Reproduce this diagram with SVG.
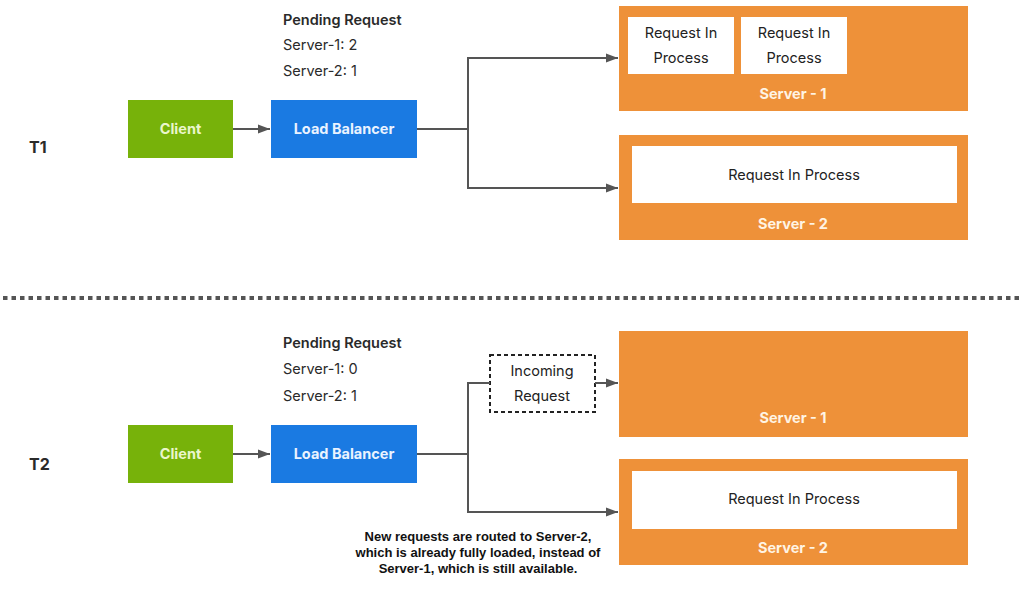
<svg xmlns="http://www.w3.org/2000/svg" width="1024" height="603" viewBox="0 0 1024 603">
<defs>
<marker id="arr" markerUnits="userSpaceOnUse" markerWidth="13" markerHeight="10" refX="12" refY="5" orient="auto">
<path d="M0,0.5 L12,5 L0,9.5 z" fill="#555"/>
</marker>
<style>
.t{font-family:Inter,"Liberation Sans",sans-serif;font-size:14.5px;fill:#2a2a2a}
.b{font-weight:600}
.lbl{font-family:Inter,"Liberation Sans",sans-serif;font-size:14.5px;font-weight:700;text-anchor:middle}
.conn{fill:none;stroke:#555;stroke-width:2}
.client{fill:#77b20a}
.lb{fill:#1a7ae2}
.srv{fill:#ee9139}
.box{fill:#fff}
.rt{font-family:Inter,"Liberation Sans",sans-serif;font-size:14.5px;fill:#222;text-anchor:middle}
.cap{font-family:"Liberation Sans",Arial,sans-serif;font-size:13px;font-weight:700;fill:#111;text-anchor:middle}
</style>
</defs>
<rect width="1024" height="603" fill="#fff"/>

<g id="t1-label"><text x="29" y="153" class="t" style="font-size:16px;font-weight:700">T1</text></g>
<g id="t1-pending">
<text x="283" y="25" class="t b">Pending Request</text>
<text x="283" y="50" class="t">Server-1: 2</text>
<text x="283" y="76" class="t">Server-2: 1</text>
</g>
<g id="t1-client"><rect x="128" y="100" width="105" height="58" class="client"/><text x="180.5" y="134" class="lbl" fill="#eaf6cc">Client</text></g>
<g id="t1-lb"><rect x="271" y="100" width="146" height="58" class="lb"/><text x="344" y="134" class="lbl" fill="#eaf3ff">Load Balancer</text></g>
<g id="t1-server1">
<rect x="619" y="6" width="349" height="105" class="srv"/>
<rect x="628" y="17" width="106" height="57" class="box"/>
<text x="681" y="38" class="rt">Request In</text><text x="681" y="63" class="rt">Process</text>
<rect x="741" y="17" width="106" height="57" class="box"/>
<text x="794" y="38" class="rt">Request In</text><text x="794" y="63" class="rt">Process</text>
<text x="793" y="99" class="lbl" fill="#fff4e4">Server - 1</text>
</g>
<g id="t1-server2">
<rect x="619" y="135" width="349" height="105" class="srv"/>
<rect x="632" y="146" width="325" height="57" class="box"/>
<text x="794" y="180" class="rt">Request In Process</text>
<text x="793" y="229" class="lbl" fill="#fff4e4">Server - 2</text>
</g>

<g id="separator"><line x1="3" y1="298" x2="1020" y2="298" stroke="#555" stroke-width="4" stroke-dasharray="4.5 4"/></g>

<g id="t2-label"><text x="29" y="470" class="t" style="font-size:16px;font-weight:700">T2</text></g>
<g id="t2-pending">
<text x="283" y="348" class="t b">Pending Request</text>
<text x="283" y="374" class="t">Server-1: 0</text>
<text x="283" y="401" class="t">Server-2: 1</text>
</g>
<g id="t2-client"><rect x="128" y="425" width="105" height="58" class="client"/><text x="180.5" y="459" class="lbl" fill="#eaf6cc">Client</text></g>
<g id="t2-lb"><rect x="271" y="425" width="146" height="58" class="lb"/><text x="344" y="459" class="lbl" fill="#eaf3ff">Load Balancer</text></g>
<g id="t2-incoming">
<rect x="490" y="355" width="105" height="57" fill="#fff" stroke="#222" stroke-width="2" stroke-dasharray="4 3"/>
<text x="542" y="376" class="rt">Incoming</text><text x="542" y="401" class="rt">Request</text>
</g>
<g id="t2-server1">
<rect x="619" y="331" width="349" height="106" class="srv"/>
<text x="793" y="423" class="lbl" fill="#fff4e4">Server - 1</text>
</g>
<g id="t2-server2">
<rect x="619" y="459" width="349" height="106" class="srv"/>
<rect x="632" y="471" width="325" height="58" class="box"/>
<text x="794" y="504" class="rt">Request In Process</text>
<text x="793" y="553" class="lbl" fill="#fff4e4">Server - 2</text>
</g>
<g id="caption">
<text x="478" y="541" class="cap">New requests are routed to Server-2,</text>
<text x="478" y="557" class="cap">which is already fully loaded, instead of</text>
<text x="478" y="573" class="cap">Server-1, which is still available.</text>
</g>

<g id="connectors">
<path d="M233,129 H270" class="conn" marker-end="url(#arr)"/>
<path d="M417,129 H468" class="conn"/>
<path d="M468,129 V58 H618" class="conn" marker-end="url(#arr)"/>
<path d="M468,129 V188 H618" class="conn" marker-end="url(#arr)"/>
<path d="M233,454 H270" class="conn" marker-end="url(#arr)"/>
<path d="M417,454 H468" class="conn"/>
<path d="M468,454 V383 H490" class="conn"/>
<path d="M595,383 H618" class="conn" marker-end="url(#arr)"/>
<path d="M468,454 V512 H618" class="conn" marker-end="url(#arr)"/>
</g>
</svg>
